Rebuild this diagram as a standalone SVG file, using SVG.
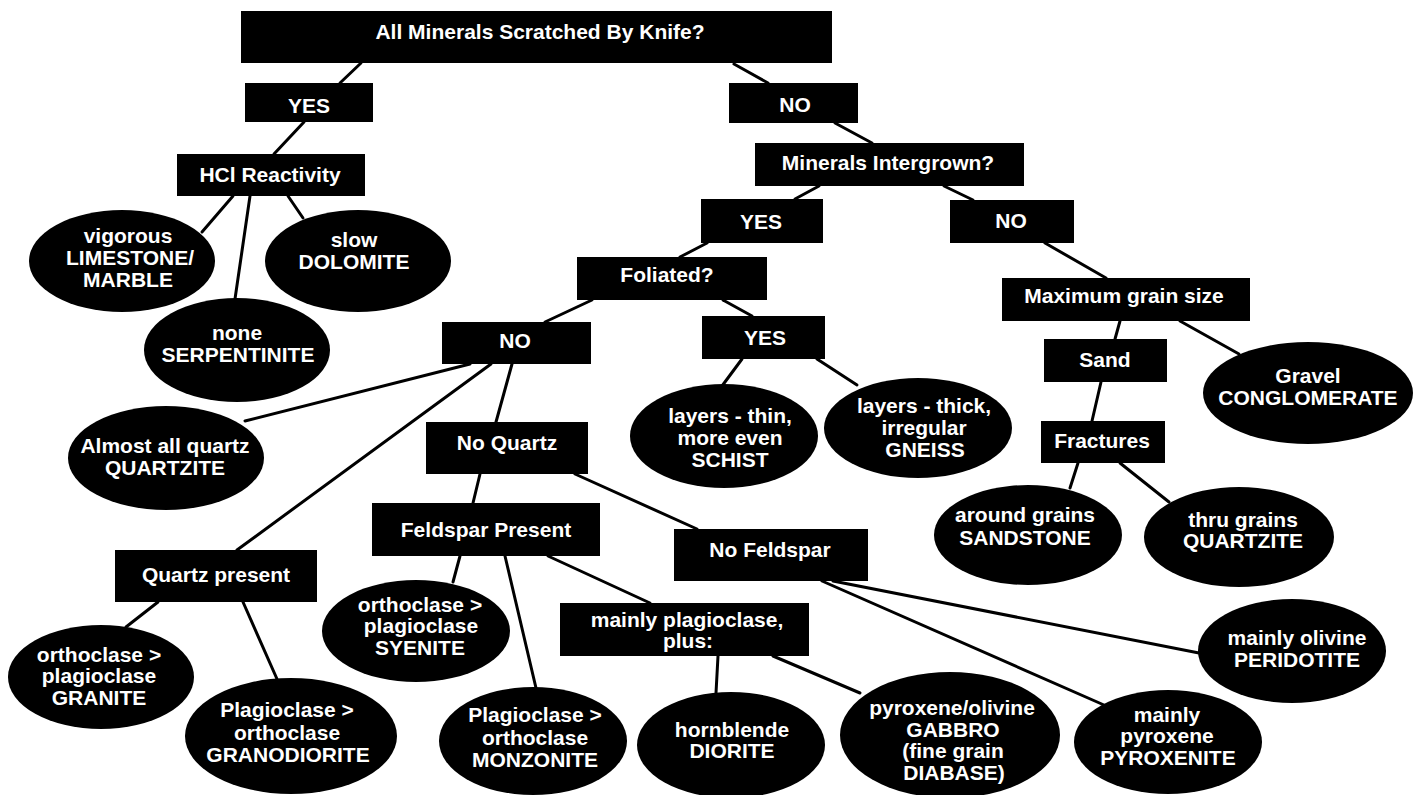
<svg xmlns="http://www.w3.org/2000/svg" width="1414" height="795" viewBox="0 0 1414 795">
<style>
.bg{fill:#fff}
.box{fill:#000}
.ell{fill:#000}
.t{font-family:"Liberation Sans",Arial,sans-serif;font-weight:bold;font-size:21px;fill:#fff;text-anchor:middle}
.c line{stroke:#000;stroke-width:3;stroke-linecap:round}
</style>
<rect class="bg" x="0" y="0" width="1414" height="795"/>
<g id="connectors" class="c">
<line x1="361" y1="63" x2="340" y2="83"/>
<line x1="734" y1="64" x2="768" y2="83"/>
<line x1="304" y1="122" x2="274" y2="154"/>
<line x1="835" y1="123" x2="872" y2="143"/>
<line x1="819" y1="186" x2="795" y2="199"/>
<line x1="944" y1="186" x2="973" y2="200"/>
<line x1="707" y1="243" x2="680" y2="257"/>
<line x1="592" y1="300" x2="545" y2="322"/>
<line x1="723" y1="300" x2="752" y2="316"/>
<line x1="1045" y1="243" x2="1106" y2="278"/>
<line x1="1120" y1="321" x2="1115" y2="339"/>
<line x1="1180" y1="321" x2="1239" y2="354"/>
<line x1="1101" y1="382" x2="1092" y2="421"/>
<line x1="1078" y1="463" x2="1070" y2="488"/>
<line x1="1120" y1="463" x2="1169" y2="502"/>
<line x1="742" y1="359" x2="722" y2="386"/>
<line x1="817" y1="359" x2="857" y2="385"/>
<line x1="233" y1="196" x2="202" y2="232"/>
<line x1="250" y1="196" x2="235" y2="299"/>
<line x1="288" y1="196" x2="303" y2="218"/>
<line x1="470" y1="364" x2="245" y2="421"/>
<line x1="491" y1="364" x2="237" y2="550"/>
<line x1="512" y1="364" x2="496" y2="422"/>
<line x1="480" y1="474" x2="473" y2="503"/>
<line x1="575" y1="474" x2="697" y2="529"/>
<line x1="158" y1="602" x2="126" y2="627"/>
<line x1="243" y1="602" x2="277" y2="679"/>
<line x1="460" y1="556" x2="453" y2="582"/>
<line x1="505" y1="556" x2="536" y2="688"/>
<line x1="548" y1="556" x2="650" y2="603"/>
<line x1="718" y1="656" x2="716" y2="693"/>
<line x1="773" y1="656" x2="860" y2="693"/>
<line x1="822" y1="581" x2="1104" y2="705"/>
<line x1="833" y1="581" x2="1199" y2="653"/>
</g>
<g id="n-root"><rect class="box" x="241" y="11" width="591" height="52"/><text class="t" x="540" y="39">All Minerals Scratched By Knife?</text></g>
<g id="n-yes1"><rect class="box" x="245" y="83" width="128" height="39"/><text class="t" x="309" y="113">YES</text></g>
<g id="n-no1"><rect class="box" x="729" y="83" width="129" height="40"/><text class="t" x="795" y="112">NO</text></g>
<g id="n-hcl"><rect class="box" x="177" y="154" width="188" height="42"/><text class="t" x="270" y="182">HCl Reactivity</text></g>
<g id="n-intergrown"><rect class="box" x="755" y="143" width="269" height="43"/><text class="t" x="888" y="170">Minerals Intergrown?</text></g>
<g id="n-yes2"><rect class="box" x="701" y="199" width="122" height="44"/><text class="t" x="761" y="229">YES</text></g>
<g id="n-no2"><rect class="box" x="950" y="200" width="124" height="43"/><text class="t" x="1011" y="228">NO</text></g>
<g id="n-foliated"><rect class="box" x="577" y="257" width="190" height="43"/><text class="t" x="667" y="282">Foliated?</text></g>
<g id="n-maxgrain"><rect class="box" x="1002" y="278" width="248" height="43"/><text class="t" x="1124" y="303">Maximum grain size</text></g>
<g id="n-no3"><rect class="box" x="442" y="322" width="149" height="42"/><text class="t" x="515" y="348">NO</text></g>
<g id="n-yes3"><rect class="box" x="702" y="316" width="123" height="43"/><text class="t" x="765" y="345">YES</text></g>
<g id="n-sand"><rect class="box" x="1044" y="339" width="123" height="43"/><text class="t" x="1105" y="367">Sand</text></g>
<g id="n-noquartz"><rect class="box" x="426" y="422" width="162" height="52"/><text class="t" x="507" y="450">No Quartz</text></g>
<g id="n-fractures"><rect class="box" x="1041" y="421" width="124" height="42"/><text class="t" x="1102" y="448">Fractures</text></g>
<g id="n-feldspar"><rect class="box" x="372" y="503" width="228" height="53"/><text class="t" x="486" y="537">Feldspar Present</text></g>
<g id="n-nofeldspar"><rect class="box" x="674" y="529" width="194" height="52"/><text class="t" x="770" y="557">No Feldspar</text></g>
<g id="n-quartzpresent"><rect class="box" x="115" y="550" width="202" height="52"/><text class="t" x="216" y="582">Quartz present</text></g>
<g id="n-mainlyplag"><rect class="box" x="560" y="603" width="249" height="53"/><text class="t" x="687" y="627">mainly plagioclase,</text><text class="t" x="688" y="648">plus:</text></g>
<g id="n-limestone"><ellipse class="ell" cx="122" cy="261" rx="93" ry="51"/><text class="t" x="128" y="243">vigorous</text><text class="t" x="130" y="265">LIMESTONE/</text><text class="t" x="128" y="287">MARBLE</text></g>
<g id="n-dolomite"><ellipse class="ell" cx="358" cy="261" rx="93" ry="51"/><text class="t" x="354" y="247">slow</text><text class="t" x="354" y="269">DOLOMITE</text></g>
<g id="n-serpentinite"><ellipse class="ell" cx="237" cy="350" rx="93" ry="52"/><text class="t" x="237" y="340">none</text><text class="t" x="238" y="362">SERPENTINITE</text></g>
<g id="n-quartzite1"><ellipse class="ell" cx="166" cy="458" rx="98" ry="52"/><text class="t" x="165" y="453">Almost all quartz</text><text class="t" x="165" y="475">QUARTZITE</text></g>
<g id="n-schist"><ellipse class="ell" cx="724" cy="436" rx="94" ry="52"/><text class="t" x="730" y="423">layers - thin,</text><text class="t" x="730" y="445">more even</text><text class="t" x="730" y="467">SCHIST</text></g>
<g id="n-gneiss"><ellipse class="ell" cx="918" cy="428" rx="94" ry="50"/><text class="t" x="924" y="413">layers - thick,</text><text class="t" x="924" y="435">irregular</text><text class="t" x="925" y="457">GNEISS</text></g>
<g id="n-conglomerate"><ellipse class="ell" cx="1308" cy="393" rx="105" ry="51"/><text class="t" x="1308" y="383">Gravel</text><text class="t" x="1308" y="405">CONGLOMERATE</text></g>
<g id="n-sandstone"><ellipse class="ell" cx="1028" cy="535" rx="94" ry="50"/><text class="t" x="1025" y="522">around grains</text><text class="t" x="1025" y="545">SANDSTONE</text></g>
<g id="n-quartzite2"><ellipse class="ell" cx="1239" cy="537" rx="95" ry="50"/><text class="t" x="1243" y="527">thru grains</text><text class="t" x="1243" y="548">QUARTZITE</text></g>
<g id="n-syenite"><ellipse class="ell" cx="416" cy="631" rx="94" ry="51"/><text class="t" x="420" y="612">orthoclase &gt;</text><text class="t" x="421" y="633">plagioclase</text><text class="t" x="420" y="655">SYENITE</text></g>
<g id="n-granite"><ellipse class="ell" cx="101" cy="677" rx="93" ry="52"/><text class="t" x="99" y="662">orthoclase &gt;</text><text class="t" x="99" y="683">plagioclase</text><text class="t" x="99" y="705">GRANITE</text></g>
<g id="n-granodiorite"><ellipse class="ell" cx="291" cy="736" rx="106" ry="58"/><text class="t" x="287" y="717">Plagioclase &gt;</text><text class="t" x="287" y="740">orthoclase</text><text class="t" x="288" y="762">GRANODIORITE</text></g>
<g id="n-monzonite"><ellipse class="ell" cx="533" cy="741" rx="94" ry="54"/><text class="t" x="535" y="722">Plagioclase &gt;</text><text class="t" x="535" y="745">orthoclase</text><text class="t" x="535" y="767">MONZONITE</text></g>
<g id="n-diorite"><ellipse class="ell" cx="731" cy="745" rx="94" ry="53"/><text class="t" x="732" y="737">hornblende</text><text class="t" x="732" y="758">DIORITE</text></g>
<g id="n-gabbro"><ellipse class="ell" cx="950" cy="735" rx="110" ry="63"/><text class="t" x="952" y="715">pyroxene/olivine</text><text class="t" x="953" y="737">GABBRO</text><text class="t" x="953" y="758">(fine grain</text><text class="t" x="954" y="780">DIABASE)</text></g>
<g id="n-pyroxenite"><ellipse class="ell" cx="1168" cy="742" rx="94" ry="52"/><text class="t" x="1167" y="722">mainly</text><text class="t" x="1167" y="743">pyroxene</text><text class="t" x="1168" y="765">PYROXENITE</text></g>
<g id="n-peridotite"><ellipse class="ell" cx="1292" cy="651" rx="94" ry="52"/><text class="t" x="1297" y="645">mainly olivine</text><text class="t" x="1297" y="667">PERIDOTITE</text></g>
</svg>
